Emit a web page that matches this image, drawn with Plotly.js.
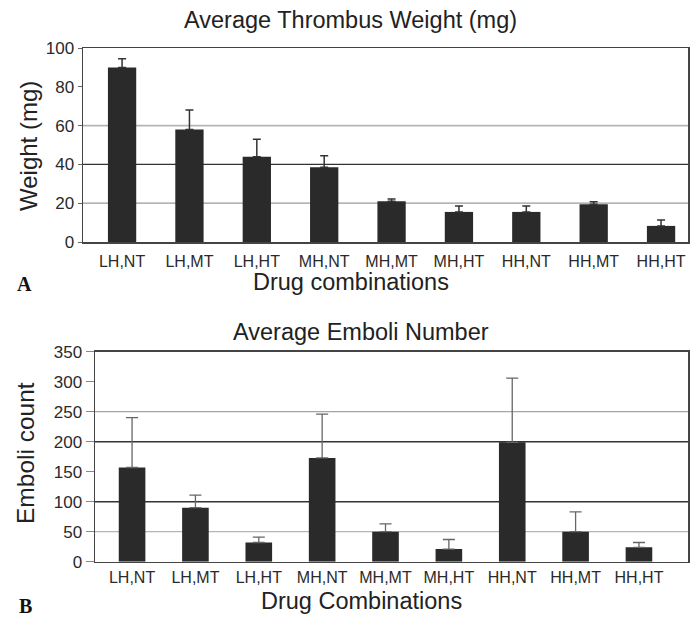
<!DOCTYPE html>
<html>
<head>
<meta charset="utf-8">
<script src="https://cdn.plot.ly/plotly-3.0.1.min.js"></script>
<style>html,body{margin:0;padding:0;background:#fff;}#chart{width:696px;height:618px;}</style>
</head>
<body>
<div id="chart"></div>
<script>
var categories = ['LH,NT','LH,MT','LH,HT','MH,NT','MH,MT','MH,HT','HH,NT','HH,MT','HH,HT'];
var weightMean = [90, 58, 44, 38.5, 21, 15.5, 15.5, 19.5, 8.3];
var weightErr  = [4.5, 10, 9, 6, 1.2, 3, 3, 1.2, 3];
var emboliMean = [157, 90, 32, 173, 50, 21, 199, 50, 24];
var emboliErr  = [83, 21, 9, 73, 13, 16, 107, 33, 8];
var weightTicks = [0, 20, 40, 60, 80, 100];
var emboliTicks = [0, 50, 100, 150, 200, 250, 300, 350];

var W = 696, H = 618;
function px(x){ return x / W; }
function py(y){ return 1 - y / H; }
var FONT = 'Liberation Sans, Arial, sans-serif';
var zeros = categories.map(function(){ return 0; });

var traces = [
  {
    type: 'bar', x: categories, y: weightMean, xaxis: 'x', yaxis: 'y',
    marker: {color: '#2a2a2a', line: {width: 0}},
    error_y: {type: 'data', symmetric: false, array: weightErr, arrayminus: zeros,
              color: '#333', thickness: 1.5, width: 4},
    showlegend: false, hoverinfo: 'x+y'
  },
  {
    type: 'bar', x: categories, y: emboliMean, xaxis: 'x2', yaxis: 'y2',
    marker: {color: '#2a2a2a', line: {width: 0}},
    error_y: {type: 'data', symmetric: false, array: emboliErr, arrayminus: zeros,
              color: '#666', thickness: 1.3, width: 6},
    showlegend: false, hoverinfo: 'x+y'
  }
];

function hline(axis, val, color, w){
  return {type: 'line', xref: axis.x + ' domain', yref: axis.y, x0: 0, x1: 1, y0: val, y1: val,
          line: {color: color, width: w}, layer: 'below'};
}
var A1 = {x: 'x', y: 'y'}, A2 = {x: 'x2', y: 'y2'};

var layout = {
  width: W, height: H,
  margin: {l: 0, r: 0, t: 0, b: 0},
  paper_bgcolor: '#fff', plot_bgcolor: '#fff',
  font: {family: FONT, color: '#222'},
  bargap: 0.58,
  xaxis: {
    domain: [px(83), px(688)], anchor: 'y', type: 'category',
    range: [-0.58, 8.4], showgrid: false,
    showline: true, mirror: true, linecolor: '#444', linewidth: 1.5,
    ticks: 'outside', ticklen: 4, tickcolor: 'rgba(0,0,0,0)',
    tickfont: {size: 16, color: '#2a2a2a'}, fixedrange: true
  },
  yaxis: {
    domain: [py(242), py(48)], anchor: 'x',
    range: [0, 100], tickvals: weightTicks, showgrid: false, zeroline: false,
    showline: true, mirror: true, linecolor: '#444', linewidth: 1.5,
    ticks: 'outside', ticklen: 4, tickcolor: '#666',
    tickfont: {size: 17, color: '#2a2a2a'}, fixedrange: true
  },
  xaxis2: {
    domain: [px(95), px(688)], anchor: 'y2', type: 'category',
    range: [-0.585, 8.774], showgrid: false,
    showline: true, mirror: true, linecolor: '#444', linewidth: 1.5,
    ticks: 'outside', ticklen: 1, tickcolor: 'rgba(0,0,0,0)',
    tickfont: {size: 16, color: '#2a2a2a'}, fixedrange: true
  },
  yaxis2: {
    domain: [py(561.7), py(351.7)], anchor: 'x2',
    range: [0, 350], tickvals: emboliTicks, showgrid: false, zeroline: false,
    showline: true, mirror: true, linecolor: '#444', linewidth: 1.5,
    ticks: 'outside', ticklen: 8, tickcolor: '#888',
    tickfont: {size: 17, color: '#2a2a2a'}, fixedrange: true
  },
  shapes: [
    hline(A1, 20, '#9a9a9a', 1.2),
    hline(A1, 40, '#333', 1.4),
    hline(A1, 60, '#b5b5b5', 1.6),
    hline(A2, 50, '#b5b5b5', 1.3),
    hline(A2, 100, '#333', 1.4),
    hline(A2, 200, '#333', 1.4),
    hline(A2, 250, '#a5a5a5', 1.2)
  ],
  annotations: [
    {text: 'Average Thrombus Weight (mg)', xref: 'paper', yref: 'paper', x: px(350), y: py(20),
     xanchor: 'center', yanchor: 'middle', showarrow: false, font: {size: 23.5, color: '#222'}},
    {text: 'Weight (mg)', xref: 'paper', yref: 'paper', x: px(29), y: py(146), textangle: -90,
     xanchor: 'center', yanchor: 'middle', showarrow: false, font: {size: 24, color: '#222'}},
    {text: 'Drug combinations', xref: 'paper', yref: 'paper', x: px(351), y: py(282),
     xanchor: 'center', yanchor: 'middle', showarrow: false, font: {size: 23.5, color: '#222'}},
    {text: '<b>A</b>', xref: 'paper', yref: 'paper', x: px(24), y: py(284),
     xanchor: 'center', yanchor: 'middle', showarrow: false,
     font: {size: 20, family: 'Liberation Serif, Times New Roman, serif', color: '#111'}},
    {text: 'Average Emboli Number', xref: 'paper', yref: 'paper', x: px(361), y: py(332),
     xanchor: 'center', yanchor: 'middle', showarrow: false, font: {size: 23.5, color: '#222'}},
    {text: 'Emboli count', xref: 'paper', yref: 'paper', x: px(25), y: py(453), textangle: -90,
     xanchor: 'center', yanchor: 'middle', showarrow: false, font: {size: 24.5, color: '#222'}},
    {text: 'Drug Combinations', xref: 'paper', yref: 'paper', x: px(361), y: py(601),
     xanchor: 'center', yanchor: 'middle', showarrow: false, font: {size: 23.5, color: '#222'}},
    {text: '<b>B</b>', xref: 'paper', yref: 'paper', x: px(25), y: py(606),
     xanchor: 'center', yanchor: 'middle', showarrow: false,
     font: {size: 20, family: 'Liberation Serif, Times New Roman, serif', color: '#111'}}
  ]
};

Plotly.newPlot('chart', traces, layout, {displayModeBar: false, staticPlot: true});
</script>
</body>
</html>
